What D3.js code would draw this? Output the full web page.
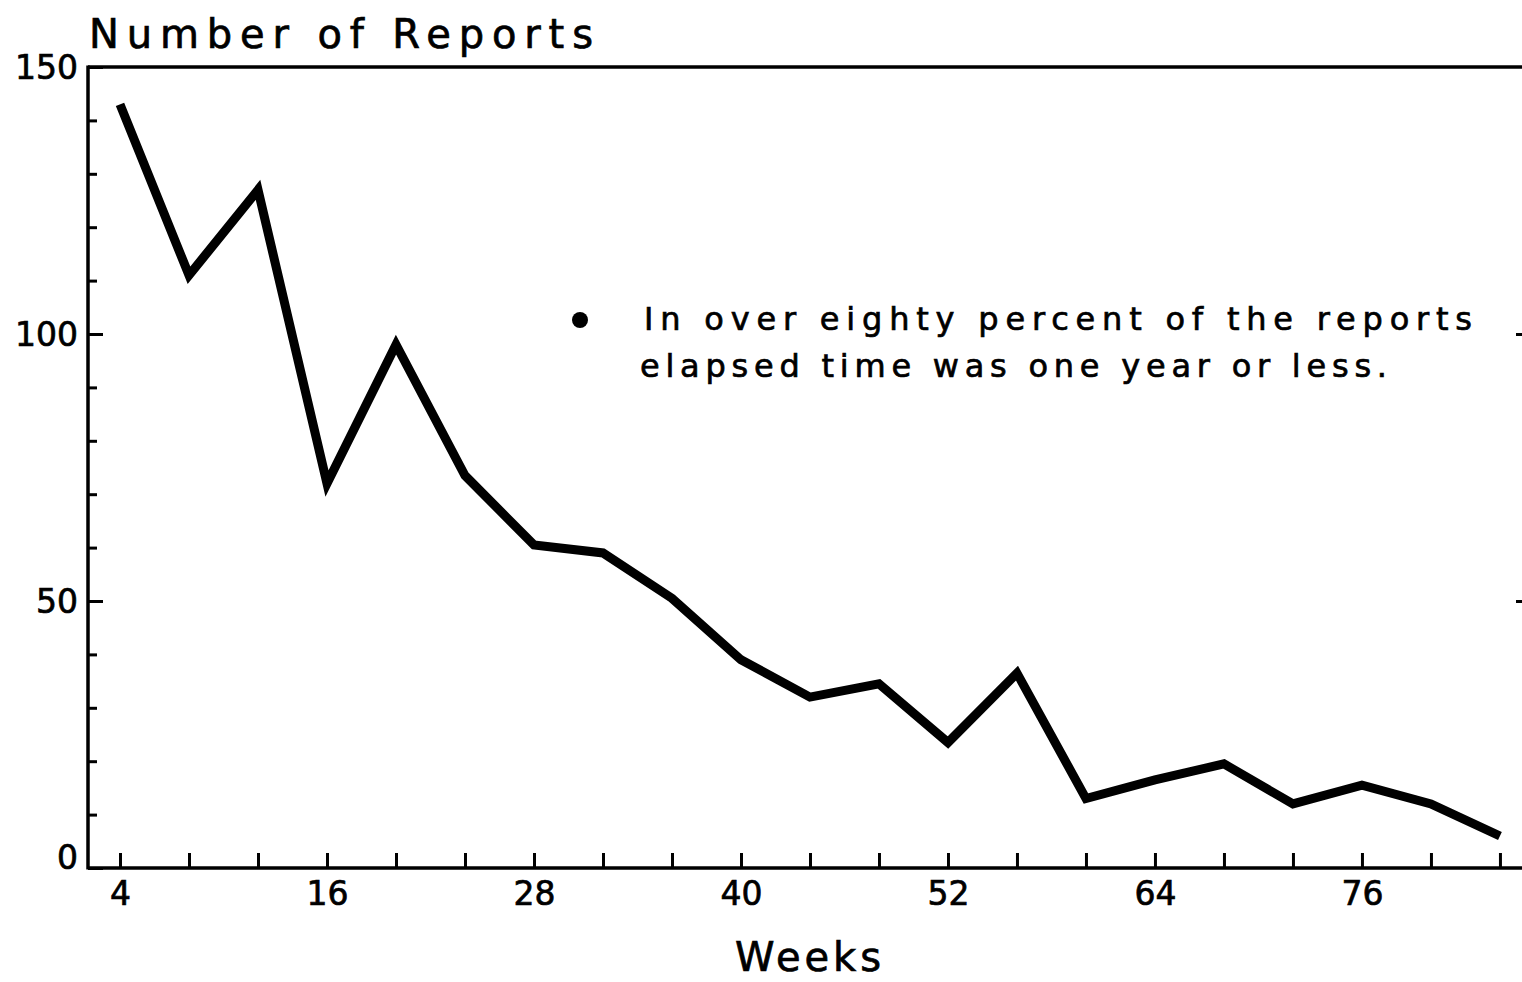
<!DOCTYPE html>
<html>
<head>
<meta charset="utf-8">
<script src="https://cdn.jsdelivr.net/npm/d3@7"></script>
<style>
  body { margin: 0; background: #fff; }
  svg { display: block; }
  text { font-family: "DejaVu Sans", sans-serif; fill: #000; stroke: #000; stroke-width: 0.7px; }
</style>
</head>
<body>
<div id="chart"></div>
<script>
// weeks elapsed vs number of reports
var weeks   = [4, 8, 12, 16, 20, 24, 28, 32, 36, 40, 44, 48, 52, 56, 60, 64, 68, 72, 76, 80, 84];
var reports = [143, 111, 127, 72, 98, 73.5, 60.5, 59, 50.5, 39, 32, 34.5, 23.5, 36.5, 13, 16.5, 19.5, 12, 15.5, 12, 6];

var xTicks      = [4, 8, 12, 16, 20, 24, 28, 32, 36, 40, 44, 48, 52, 56, 60, 64, 68, 72, 76, 80, 84];
var xTickLabels = [4, 16, 28, 40, 52, 64, 76];
var yMajor      = [0, 50, 100, 150];
var yMinor      = [10, 20, 30, 40, 60, 70, 80, 90, 110, 120, 130, 140];

var titleText = "Number of Reports";
var xLabel    = "Weeks";
var noteLines = ["In over eighty percent of the reports",
                 "elapsed time was one year or less."];

var width = 1522, height = 982;
var plotLeft = 88, plotRight = 1531, plotTop = 67, plotBottom = 868;

var svg = d3.select("#chart").append("svg")
    .attr("width", width)
    .attr("height", height);

var x = d3.scaleLinear().domain([2.145, 85.8]).range([plotLeft, plotRight]);
var y = d3.scaleLinear().domain([0, 150]).range([plotBottom, plotTop]);

// frame: left, top, bottom
svg.append("line").attr("x1", plotLeft).attr("x2", plotLeft).attr("y1", plotTop - 1.5).attr("y2", plotBottom + 1.5)
    .attr("stroke", "#000").attr("stroke-width", 3.5);
svg.append("line").attr("x1", plotLeft).attr("x2", width).attr("y1", plotTop).attr("y2", plotTop)
    .attr("stroke", "#000").attr("stroke-width", 3.5);
svg.append("line").attr("x1", plotLeft).attr("x2", width).attr("y1", plotBottom).attr("y2", plotBottom)
    .attr("stroke", "#000").attr("stroke-width", 3.5);

// y axis, ticks pointing inward
var yAxis = svg.append("g")
    .attr("transform", "translate(" + plotLeft + ",0)")
    .call(d3.axisLeft(y).tickValues(yMajor).tickSize(-15).tickPadding(10));
yAxis.select(".domain").remove();
yAxis.selectAll(".tick line").attr("stroke-width", 3);
yAxis.selectAll(".tick text")
    .style("font-size", "33px")
    .style("font-family", "'DejaVu Sans', sans-serif")
    .attr("dy", function(d) { return d === 0 ? "0em" : "0.35em"; });

var yMinorAxis = svg.append("g")
    .attr("transform", "translate(" + plotLeft + ",0)")
    .call(d3.axisLeft(y).tickValues(yMinor).tickSize(-9).tickFormat(""));
yMinorAxis.select(".domain").remove();
yMinorAxis.selectAll(".tick line").attr("stroke-width", 3);

// right side ticks (frame edge lies just off the page)
var yRight = svg.append("g")
    .attr("transform", "translate(" + plotRight + ",0)")
    .call(d3.axisRight(y).tickValues([50, 100]).tickSize(-15).tickFormat(""));
yRight.select(".domain").remove();
yRight.selectAll(".tick line").attr("stroke-width", 3);

// x axis, ticks pointing up
var xAxis = svg.append("g")
    .attr("transform", "translate(0," + plotBottom + ")")
    .call(d3.axisBottom(x).tickValues(xTicks).tickSize(-15).tickPadding(14)
        .tickFormat(function(d) { return xTickLabels.indexOf(d) >= 0 ? d : ""; }));
xAxis.select(".domain").remove();
xAxis.selectAll(".tick line").attr("stroke-width", 3);
xAxis.selectAll(".tick text")
    .style("font-size", "33px")
    .style("font-family", "'DejaVu Sans', sans-serif");

// data line
var line = d3.line()
    .x(function(d, i) { return x(weeks[i]); })
    .y(function(d) { return y(d); });

svg.append("path")
    .datum(reports)
    .attr("d", line)
    .attr("fill", "none")
    .attr("stroke", "#000")
    .attr("stroke-width", 9)
    .attr("stroke-linejoin", "miter")
    .attr("stroke-linecap", "butt");

// title
svg.append("text")
    .text(titleText)
    .attr("x", 89)
    .attr("y", 48)
    .attr("textLength", 504)
    .attr("lengthAdjust", "spacing")
    .style("font-size", "40px");

// x label
svg.append("text")
    .text(xLabel)
    .attr("x", 735)
    .attr("y", 971)
    .attr("textLength", 146)
    .attr("lengthAdjust", "spacing")
    .style("font-size", "40px");

// note
svg.append("circle")
    .attr("cx", 580)
    .attr("cy", 320)
    .attr("r", 8)
    .attr("fill", "#000");

svg.append("text")
    .text(noteLines[0])
    .attr("x", 644)
    .attr("y", 330)
    .attr("textLength", 828)
    .attr("lengthAdjust", "spacing")
    .style("font-size", "32px");

svg.append("text")
    .text(noteLines[1])
    .attr("x", 640)
    .attr("y", 377)
    .attr("textLength", 747)
    .attr("lengthAdjust", "spacing")
    .style("font-size", "32px");
</script>
</body>
</html>
